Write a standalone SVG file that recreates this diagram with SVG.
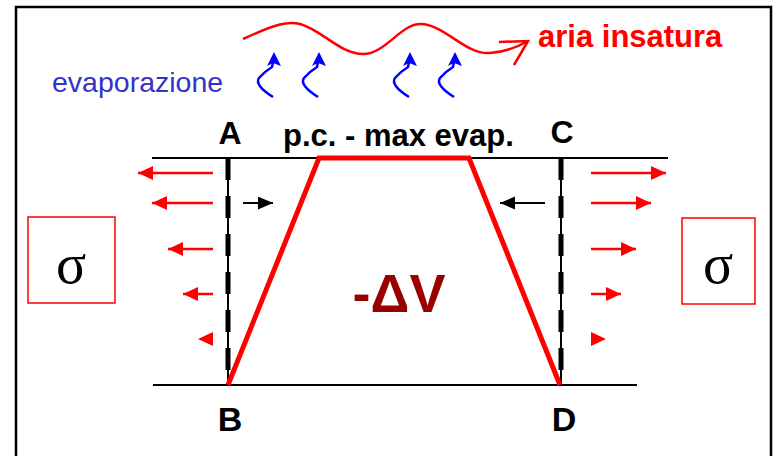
<svg xmlns="http://www.w3.org/2000/svg" width="775" height="456" viewBox="0 0 775 456">
<style>
.lbl{font-family:"Liberation Sans",Arial,sans-serif;font-weight:bold;fill:#000}
.red{stroke:#ff0000;fill:none}
.ra{stroke:#ff0000;stroke-width:2.5;fill:none}
.ka{stroke:#000;stroke-width:2;fill:none}
.base{stroke:#000;stroke-width:2;fill:none}
.sig{font-family:"Liberation Serif","Times New Roman",serif;font-size:56px;fill:#000}
.box{fill:#fff;stroke:#ff0000;stroke-width:1.5}
.blue{stroke:#0000ff;stroke-width:2.5;fill:none}
</style>
<defs>
<marker id="hr" markerUnits="userSpaceOnUse" markerWidth="16" markerHeight="14" refX="15" refY="7" orient="auto">
<path d="M0,0 L15,7 L0,14 Z" fill="#ff0000"/>
</marker>
<marker id="hk" markerUnits="userSpaceOnUse" markerWidth="16" markerHeight="14" refX="15" refY="6.5" orient="auto">
<path d="M0,0 L15,6.5 L0,13 Z" fill="#000"/>
</marker>
<g id="squig">
<path class="blue" d="M0,0 Q-19,-12 -14,-19 Q-9,-25 -1,-30 L0,-35"/>
<path d="M1,-45 L-6,-31 L0,-34 L8,-31 Z" fill="#0000ff"/>
</g>
</defs>
<rect id="frame" x="16" y="7" width="755" height="462" fill="#fff" stroke="#000" stroke-width="2.5"/>

<g id="air">
<path class="red" stroke-width="2.5" d="M243,39 C265,29 285,20 300,24 C322,30 340,54 363,54 C386,54 402,22 422,24 C446,26 466,55 490,53 C505,52 516,48 528,41"/>
<path class="red" stroke-width="2.5" d="M499,42 L528,41 L514,65"/>
<text x="538" y="47" class="lbl" style="font-size:31px;fill:#ff0000">aria insatura</text>
</g>

<g id="evap">
<text x="52" y="92" style="font-family:'Liberation Sans',Arial,sans-serif;font-size:28.5px;fill:#3333cc">evaporazione</text>
<use href="#squig" x="273" y="97"/>
<use href="#squig" x="318" y="97"/>
<use href="#squig" x="409" y="97"/>
<use href="#squig" x="454" y="97"/>
</g>

<g id="baselines">
<line class="base" x1="152" y1="158" x2="668" y2="158"/>
<line class="base" x1="153" y1="385" x2="637" y2="385"/>
</g>

<g id="A-B">
<line x1="228" y1="158" x2="228" y2="385" stroke="#000" stroke-width="2"/>
<line x1="228" y1="158" x2="228" y2="372" stroke="#000" stroke-width="5" stroke-dasharray="22 16"/>
<text x="230" y="144" class="lbl" style="font-size:32px" text-anchor="middle">A</text>
<text x="230" y="431" class="lbl" style="font-size:34px" text-anchor="middle">B</text>
</g>
<g id="C-D">
<line x1="561" y1="158" x2="561" y2="385" stroke="#000" stroke-width="2"/>
<line x1="561" y1="158" x2="561" y2="372" stroke="#000" stroke-width="5" stroke-dasharray="22 16"/>
<text x="562" y="143" class="lbl" style="font-size:32px" text-anchor="middle">C</text>
<text x="564" y="431" class="lbl" style="font-size:34px" text-anchor="middle">D</text>
</g>

<g id="profile">
<polyline class="red" stroke-width="5" points="228,385 319,158 469,158 560,385"/>
<text x="283" y="146" class="lbl" style="font-size:31px">p.c. - max evap.</text>
<text x="399" y="312" class="lbl" style="font-size:54px;fill:#990000" text-anchor="middle">-ΔV</text>
</g>

<g id="connectors">
<line class="ra" x1="213" y1="173" x2="138" y2="173" marker-end="url(#hr)"/>
<line class="ra" x1="213" y1="203" x2="152" y2="203" marker-end="url(#hr)"/>
<line class="ra" x1="213" y1="249" x2="168" y2="249" marker-end="url(#hr)"/>
<line class="ra" x1="213" y1="294" x2="183" y2="294" marker-end="url(#hr)"/>
<polygon points="198,339 213,332 213,346" fill="#ff0000"/>
<line class="ra" x1="591" y1="173" x2="666" y2="173" marker-end="url(#hr)"/>
<line class="ra" x1="591" y1="203" x2="651" y2="203" marker-end="url(#hr)"/>
<line class="ra" x1="591" y1="249" x2="636" y2="249" marker-end="url(#hr)"/>
<line class="ra" x1="591" y1="294" x2="621" y2="294" marker-end="url(#hr)"/>
<polygon points="606,339 591,332 591,346" fill="#ff0000"/>
<line class="ka" x1="243" y1="203" x2="273" y2="203" marker-end="url(#hk)"/>
<line class="ka" x1="545" y1="203" x2="500" y2="203" marker-end="url(#hk)"/>
</g>

<g id="sigma-left">
<rect class="box" x="28" y="217" width="87" height="86"/>
<text x="71" y="283" class="sig" text-anchor="middle">σ</text>
</g>
<g id="sigma-right">
<rect class="box" x="682" y="218" width="73" height="86"/>
<text x="718" y="283" class="sig" text-anchor="middle">σ</text>
</g>
</svg>
